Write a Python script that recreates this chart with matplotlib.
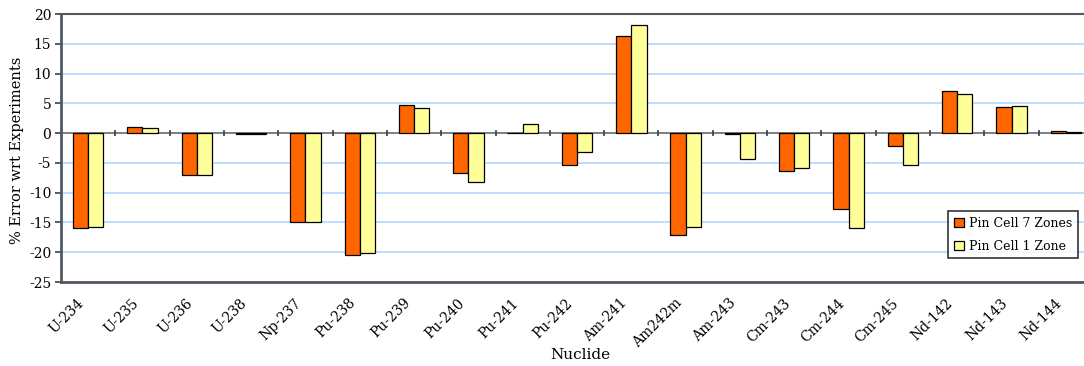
import matplotlib
matplotlib.use("Agg")
import matplotlib.pyplot as plt
import numpy as np

# nuclides and % error vs experiments
nuclides = ["U-234", "U-235", "U-236", "U-238", "Np-237", "Pu-238", "Pu-239",
            "Pu-240", "Pu-241", "Pu-242", "Am-241", "Am242m", "Am-243", "Cm-243",
            "Cm-244", "Cm-245", "Nd-142", "Nd-143", "Nd-144"]
pin_7_zones = [-16.0, 1.05, -7.1, -0.1, -15.0, -20.5, 4.7, -6.65, 0.0, -5.4,
               16.3, -17.05, -0.1, -6.4, -12.8, -2.2, 7.0, 4.4, 0.4]
pin_1_zone = [-15.7, 0.9, -7.1, -0.1, -15.0, -20.1, 4.25, -8.2, 1.5, -3.25,
              18.1, -15.7, -4.4, -5.9, -16.0, -5.4, 6.5, 4.5, 0.15]

plt.rcParams['font.family'] = ['DejaVu Serif']
plt.rcParams['axes.unicode_minus'] = False

W, H = 1084, 366
fig = plt.figure(figsize=(W / 100, H / 100), dpi=100)
ax = fig.add_axes([61 / W, (H - 282) / H, 1032 / W, 268 / H])

x = np.arange(len(nuclides))
bw = 0.28
ax.bar(x - bw / 2, pin_7_zones, bw, color='#FF6600', edgecolor='black',
       linewidth=0.9, label='Pin Cell 7 Zones', zorder=3)
ax.bar(x + bw / 2, pin_1_zone, bw, color='#FFFF99', edgecolor='black',
       linewidth=0.9, label='Pin Cell 1 Zone', zorder=3)

ax.set_xlim(-0.5, len(nuclides) - 0.5)
ax.set_ylim(-25, 20)
ax.set_yticks(np.arange(-25, 21, 5))
ax.yaxis.grid(True, color='#B3D7FF', linewidth=1.2, zorder=0)
ax.set_axisbelow(True)

# zero axis line with category separators
ax.axhline(0, color='#707070', linewidth=1.2, zorder=2)
ax.vlines(x[1:] - 0.5, -0.5, 0.5, color='#404040', linewidth=1.2, zorder=2)

# category labels, rotated, ending a little left of the category centre
ax.set_xticks(x)
ax.set_xticklabels([])
for xi, name in zip(x, nuclides):
    ax.annotate(name, (xi, 0), xycoords=('data', 'axes fraction'),
                xytext=(-8, -10), textcoords='offset points',
                rotation=45, ha='right', va='top', rotation_mode='anchor',
                fontsize=10)
ax.tick_params(axis='x', length=0)
ax.tick_params(axis='y', length=4, width=1.2, color='#404040', labelsize=10, pad=3)

for s in ['left', 'bottom', 'top']:
    ax.spines[s].set_color('#505860')
ax.spines['left'].set_linewidth(2)
ax.spines['bottom'].set_linewidth(2)
ax.spines['top'].set_linewidth(1.5)
ax.spines['right'].set_visible(False)

fig.text(17 / W, 1 - 150 / H, '% Error wrt Experiments', rotation=90,
         ha='center', va='center', fontsize=10.5)
fig.text(580 / W, 1 - 355 / H, 'Nuclide', ha='center', va='center', fontsize=11)

leg = ax.legend(loc='upper left', bbox_to_anchor=(948 / W, 1 - 211 / H),
                bbox_transform=fig.transFigure, fontsize=9, frameon=True,
                fancybox=False, edgecolor='black', handlelength=0.8,
                handleheight=0.8, handletextpad=0.4, borderpad=0.45,
                labelspacing=0.8, borderaxespad=0)
leg.get_frame().set_linewidth(1.2)

fig.savefig('out.png', dpi=100)
